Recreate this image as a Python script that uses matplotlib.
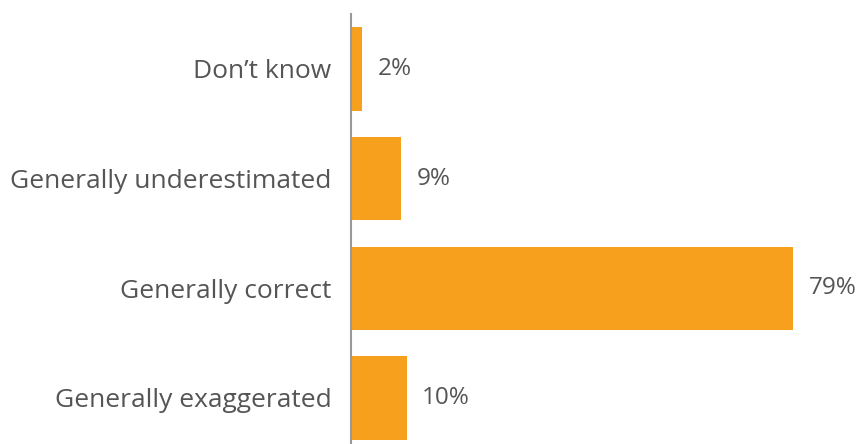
import matplotlib
matplotlib.use("Agg")
import matplotlib.pyplot as plt

categories = ["Generally exaggerated", "Generally correct", "Generally underestimated", "Don\u2019t know"]
values = [10, 79, 9, 2]

bar_color = "#F7A01E"
text_color = "#555555"

plt.rcParams["font.family"] = ["Open Sans", "DejaVu Sans"]

fig = plt.figure(figsize=(8.59, 4.44), dpi=100)
ax = fig.add_axes([351 / 859, 0.0, 1 - 351 / 859, 1 - 14 / 444])

y = range(len(categories))
bars = ax.barh(y, values, height=0.76, color=bar_color, zorder=2)

ax.set_xlim(0, (859 - 351) / 5.6)
ax.set_ylim(-0.42, 3.50)

ax.set_yticks(list(y))
ax.set_yticklabels(categories, fontsize=19, color=text_color)
ax.tick_params(axis="y", length=0, pad=14)
ax.set_xticks([])

for side in ("top", "right", "bottom"):
    ax.spines[side].set_visible(False)
ax.spines["left"].set_color("#999999")
ax.spines["left"].set_linewidth(1.5)
ax.spines["left"].set_zorder(3)

for rect, v in zip(bars, values):
    ax.annotate(f"{v}%", xy=(v, rect.get_y() + rect.get_height() / 2),
                xytext=(11, 0), textcoords="offset points",
                va="center", ha="left", fontsize=17.5, color=text_color,
                annotation_clip=False)

fig.savefig("out.png", dpi=100, facecolor="white")
